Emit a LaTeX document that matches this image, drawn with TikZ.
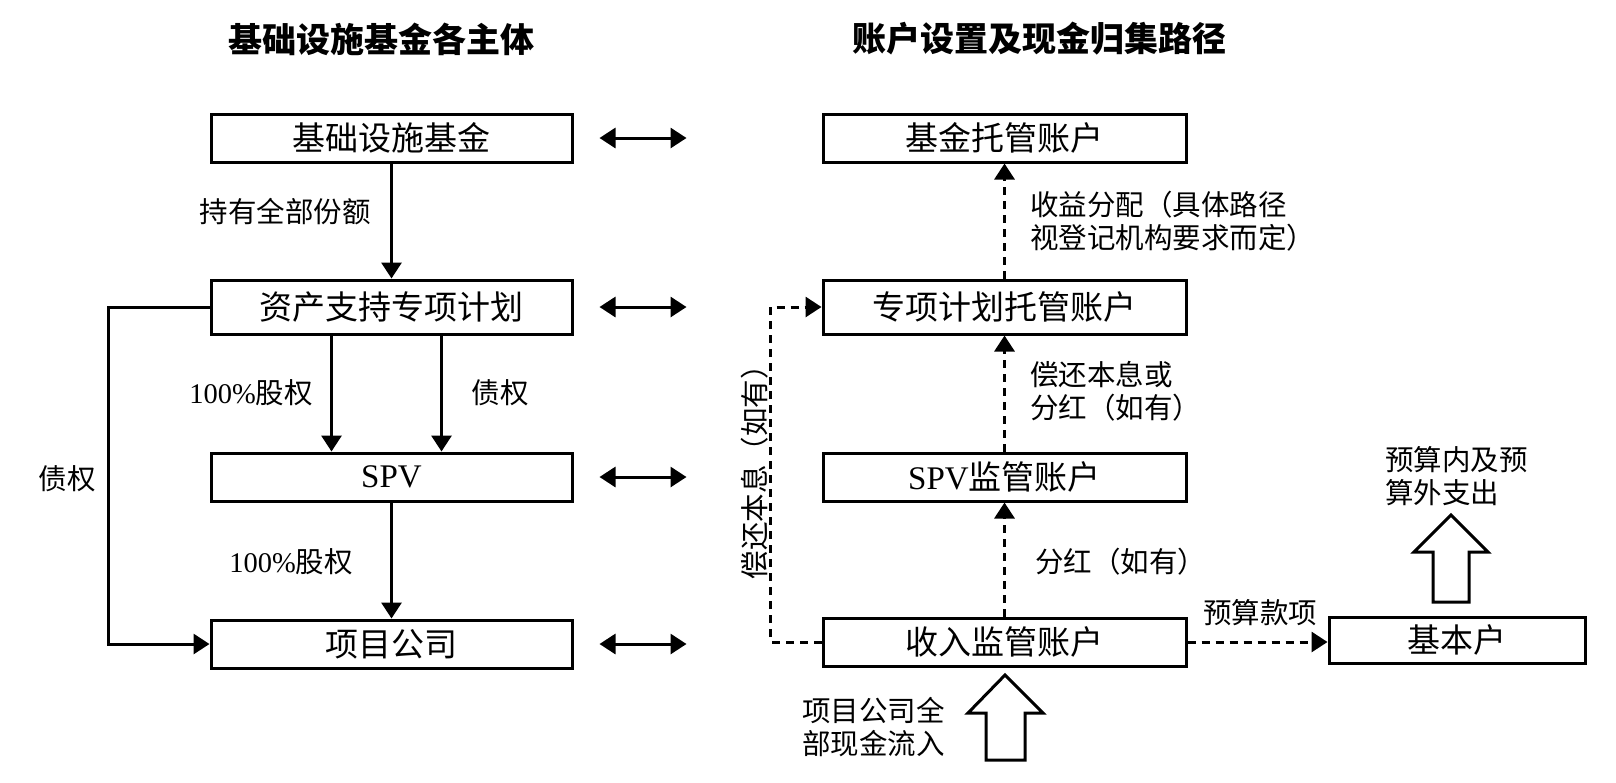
\documentclass[tikz,border=0pt]{standalone}
\usepackage{fontspec}
\setmainfont{Liberation Serif}
\newfontfamily\cjk{Noto Sans CJK SC}
\usetikzlibrary{arrows.meta}

\tikzset{
  acctbox/.style={draw,line width=3pt,minimum height=48pt,inner sep=0pt,
    font=\cjk\fontsize{33}{38}\selectfont},
  flowline/.style={line width=3pt,-{Triangle[length=16pt,width=20pt]}},
  dashflow/.style={flowline,dash pattern=on 8pt off 6pt},
  twoway/.style={line width=3pt,{Triangle[length=16pt,width=20pt]}-{Triangle[length=16pt,width=20pt]}},
  lbl/.style={inner sep=0pt,font=\cjk\fontsize{28.5}{33}\selectfont},
  heading/.style={font=\cjk\bfseries\fontsize{34}{40}\selectfont},
}

\begin{document}
\begin{tikzpicture}[x=1pt,y=-1pt]
        \useasboundingbox (0,0) rectangle (1616,782);

        % headings
        \node[heading] (lefttitle) at (381,39) {基础设施基金各主体};
        \node[heading] (righttitle) at (1039,39) {账户设置及现金归集路径};

        % left column: the parties
        \node[acctbox,minimum width=361pt] (fund) at (391.5,138) {基础设施基金};
        \node[acctbox,minimum width=361pt,minimum height=54pt] (plan) at (391.5,307) {资产支持专项计划};
        \node[acctbox,minimum width=361pt] (spv) at (391.5,477) {{\rmfamily SPV}};
        \node[acctbox,minimum width=361pt] (proj) at (391.5,644) {项目公司};

        \draw[flowline] (fund) -- (plan);
        \draw[flowline] ([xshift=-60pt]plan.south) -- ([xshift=-60pt]spv.north);
        \draw[flowline] ([xshift=50pt]plan.south) -- ([xshift=50pt]spv.north);
        \draw[flowline] (spv) -- (proj);
        \draw[flowline] (plan.west) -- ++(-101,0) |- (proj.west);

        \node[lbl] (holdlbl) at (285,212) {持有全部份额};
        \node[lbl] (eq1lbl) at (251,393) {{\rmfamily 100\%}股权};
        \node[lbl] (debt1lbl) at (500,393) {债权};
        \node[lbl] (eq2lbl) at (291,562) {{\rmfamily 100\%}股权};
        \node[lbl] (debt2lbl) at (67,479) {债权};

        % right column: the accounts
        \node[acctbox,minimum width=363pt] (custody) at (1004.5,138) {基金托管账户};
        \node[acctbox,minimum width=363pt,minimum height=54pt] (planacct) at (1004.5,307) {专项计划托管账户};
        \node[acctbox,minimum width=363pt] (spvacct) at (1004.5,477) {{\rmfamily SPV}监管账户};
        \node[acctbox,minimum width=363pt] (revenue) at (1004.5,642) {收入监管账户};
        \node[acctbox,minimum width=256pt,minimum height=46pt] (basic) at (1457,640) {基本户};

        \draw[dashflow] (planacct) -- (custody);
        \draw[dashflow] (spvacct) -- (planacct);
        \draw[dashflow] (revenue) -- (spvacct);
        \draw[dashflow] (revenue.west) -- ++(-51,0) |- (planacct.west);
        \draw[dashflow] (revenue.east) -- (basic.west |- revenue.east);

        \node[lbl,anchor=west,align=left] (distlbl) at (1030,221) {收益分配（具体路径\\视登记机构要求而定）};
        \node[lbl,anchor=west,align=left] (repaylbl) at (1030,391) {偿还本息或\\分红（如有）};
        \node[lbl,anchor=west] (divlbl) at (1035,562) {分红（如有）};
        \node[lbl,rotate=90] (repay2lbl) at (755,465) {偿还本息（如有）};
        \node[lbl] (budgetlbl) at (1260,613) {预算款项};
        \node[lbl,anchor=west,align=left] (spendlbl) at (1385,476) {预算内及预\\算外支出};
        \node[lbl,anchor=west,align=left] (inflowlbl) at (802,727) {项目公司全\\部现金流入};

        % correspondence between the two columns
        \foreach \l in {fund,plan,spv,proj}
          \draw[twoway] ([xshift=26pt]\l.east) -- ++(87,0);

        % block arrows
        \draw[line width=3pt] (1005,675) -- (1043,713) -- (1025,713) -- (1025,760)
          -- (986,760) -- (986,713) -- (968,713) -- cycle;
        \draw[line width=3pt] (1451,515) -- (1488,552) -- (1469,552) -- (1469,602)
          -- (1433,602) -- (1433,552) -- (1414,552) -- cycle;
\end{tikzpicture}
\end{document}
